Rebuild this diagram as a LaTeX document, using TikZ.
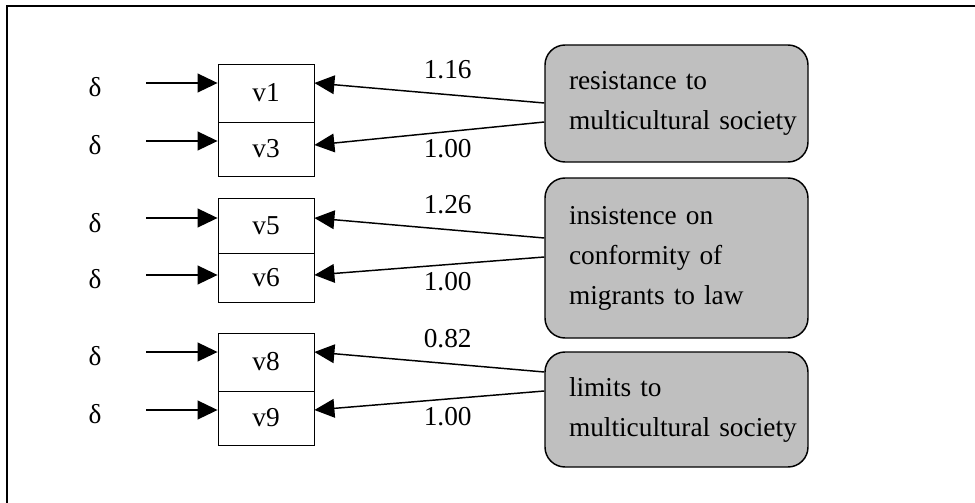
\documentclass[tikz,border=0pt]{standalone}
\usepackage{fontspec}
\setmainfont{Liberation Serif}
\usetikzlibrary{calc,arrows.meta}

\begin{document}
\begin{tikzpicture}[x=0.75pt,y=-0.75pt,>={Triangle[length=15pt,width=14pt]},
    font=\fontsize{20.5pt}{30pt}\selectfont,
    indicator/.style={draw,line width=0.6pt,minimum width=72pt,inner sep=0pt},
    factor/.style={draw,line width=1.1pt,fill=black!25,rounded corners=15pt,
      align=left,text width=161.25pt,inner xsep=18pt,inner ysep=0pt,minimum width=197.25pt},
    cause/.style={->,line width=1.5pt},
    load/.style={->,line width=1.1pt},
    coef/.style={inner sep=0pt}]
      \useasboundingbox (0,0) rectangle (975,503);
      \draw[line width=1.5pt] (7,510) -- (7,6) -- (980,6);
      % observed variables
      \node[indicator,minimum height=43.5pt] (v1) at (266,93) {v1};
      \node[indicator,minimum height=40.5pt] (v3) at (266,149) {v3};
      \node[indicator,minimum height=41.25pt] (v5) at (266,225.5) {v5};
      \node[indicator,minimum height=36.75pt] (v6) at (266,277.5) {v6};
      \node[indicator,minimum height=43.5pt] (v8) at (266,362) {v8};
      \node[indicator,minimum height=40.5pt] (v9) at (266,418) {v9};
      % error terms
      \node (e1) at (95,87) {δ};
      \node (e3) at (95,145) {δ};
      \node (e5) at (95,223) {δ};
      \node (e6) at (95,279) {δ};
      \node (e8) at (95,356) {δ};
      \node (e9) at (95,414) {δ};
      \coordinate (s1) at (146,83);
      \coordinate (s3) at (146,141);
      \coordinate (s5) at (146,218);
      \coordinate (s6) at (146,275);
      \coordinate (s8) at (146,352);
      \coordinate (s9) at (146,410);
      \foreach \i in {1,3,5,6,8,9}
        \draw[cause] (s\i) -- (s\i -| v\i.west);
      % latent factors
      \node[factor,minimum height=87.75pt] (f1) at (676.5,103.5)
        {resistance to\\\mbox{multicultural society}};
      \node[factor,minimum height=120pt] (f2) at (676.5,258)
        {insistence on\\conformity of\\migrants to law};
      \node[factor,minimum height=86.25pt] (f3) at (676.5,409.5)
        {limits to\\\mbox{multicultural society}};
      % loadings
      \draw[load] ($(f1.west)+(0,-0.5)$) -- node[coef,pos=.42,above=11pt] {1.16} ($(v1.east)+(0,-10)$);
      \draw[load] ($(f1.west)+(0,18.5)$) -- node[coef,pos=.42,below=5.5pt] {1.00} ($(v3.east)+(0,-4)$);
      \draw[load] ($(f2.west)+(0,-20)$) -- node[coef,pos=.42,above=11pt] {1.26} ($(v5.east)+(0,-7.5)$);
      \draw[load] ($(f2.west)+(0,-1)$) -- node[coef,pos=.42,below=5.5pt] {1.00} ($(v6.east)+(0,-2.5)$);
      \draw[load] ($(f3.west)+(0,-37.5)$) -- node[coef,pos=.42,above=11pt] {0.82} ($(v8.east)+(0,-10)$);
      \draw[load] ($(f3.west)+(0,-18.5)$) -- node[coef,pos=.42,below=5.5pt] {1.00} ($(v9.east)+(0,-8)$);
    \end{tikzpicture}
\end{document}
